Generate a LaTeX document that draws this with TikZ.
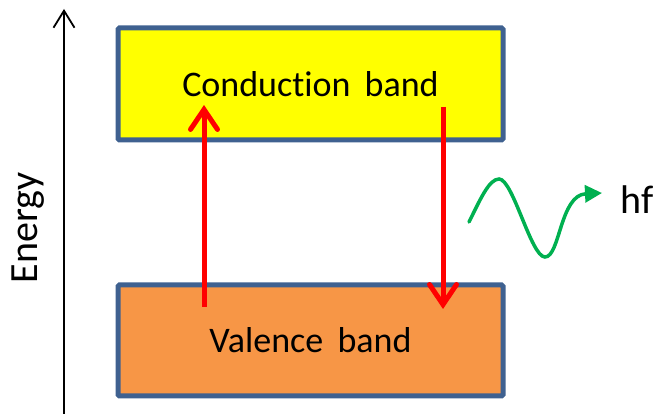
\documentclass[tikz,border=0pt]{standalone}
\usepackage{fontspec}
\setmainfont{Carlito}[Ligatures={NoCommon}]
\usetikzlibrary{arrows.meta}
\definecolor{bandborder}{HTML}{3F6190}
\definecolor{condfill}{HTML}{FFFF00}
\definecolor{valfill}{HTML}{F79646}
\definecolor{photon}{HTML}{00B050}
\definecolor{transred}{HTML}{FF0000}
\tikzset{
  band/.style={draw=bandborder, line width=5pt, rounded corners=1.5pt, minimum width=385pt, inner sep=0pt, font=\fontsize{36}{40}\selectfont},
  transition/.style={draw=transred, line width=5pt, -{Straight Barb[length=20pt,width=27pt,line cap=round]}},
  axis/.style={draw=black, line width=1.8pt, -{Straight Barb[length=17pt,width=21pt]}},
  wave/.style={draw=photon, line width=3.5pt, -{Triangle[length=17pt,width=17pt]}},
  biglabel/.style={font=\fontsize{40}{44}\selectfont, inner sep=0pt}
}
\begin{document}
\begin{tikzpicture}[x=1pt,y=1pt]
\useasboundingbox (0,0) rectangle (657,414);
% bands
\node[band, fill=condfill, minimum height=112pt] (cb) at (310.5,330) {Conduction\, band};
\node[band, fill=valfill, minimum height=111pt] (vb) at (310.5,73.5) {Valence\, band};
% energy axis
\coordinate (axbot) at (64,-2);
\coordinate (axtop) at (64,405);
\draw[axis] (axbot) -- (axtop);
\node[biglabel, rotate=90] (energy) at (28.5,186) {Energy};
% transitions
\coordinate (upstart) at (204,107);
\coordinate (upend) at (204,309);
\coordinate (downstart) at (443,307);
\coordinate (downend) at (443,105);
\draw[transition] (upstart) -- (upend);
\draw[transition] (downstart) -- (downend);
% photon
\coordinate (w0) at (469,192);
\coordinate (w1) at (499,235);
\coordinate (w2) at (545,157);
\coordinate (w3) at (602,221);
\draw[wave, line cap=round] (w0) .. controls (480,214) and (489,235) .. (w1)
  .. controls (513,235) and (531,157) .. (w2)
  .. controls (560,157) and (560,219) .. (w3);
\node[biglabel, anchor=west] (hf) at (620,214) {hf};
\end{tikzpicture}
\end{document}
